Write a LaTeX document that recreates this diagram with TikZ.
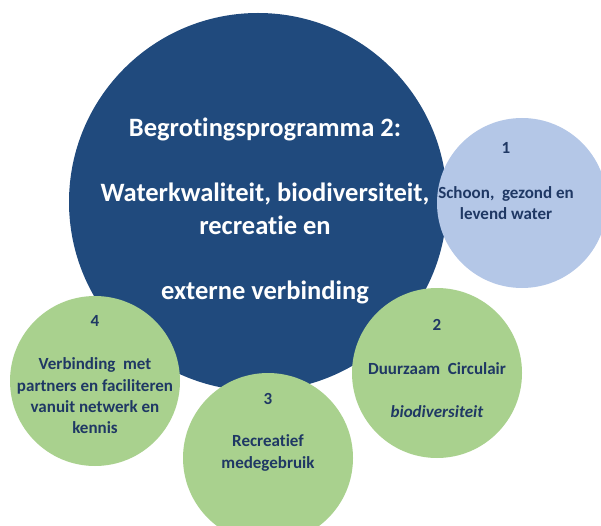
\documentclass[tikz,border=0pt]{standalone}
\usepackage{fontspec}
\setmainfont{Carlito}[Ligatures=NoCommon]
\definecolor{progblauw}{RGB}{32,74,125}
\definecolor{lichtblauw}{RGB}{180,199,231}
\definecolor{groen}{RGB}{169,209,142}
\definecolor{donkerblauw}{RGB}{31,56,100}
\begin{document}
\begin{tikzpicture}[x=1pt,y=-1pt,
    bol/.style={circle,inner sep=0pt,minimum size=170pt},
    nummer/.style={text=donkerblauw,font=\fontsize{17}{21}\selectfont\bfseries},
    tekst/.style={text=donkerblauw,align=center,font=\fontsize{17}{21.3}\selectfont\bfseries}]
\useasboundingbox (0,0) rectangle (601,526);
\clip (0,0) rectangle (601,526);

\node[circle,fill=progblauw,inner sep=0pt,minimum size=378pt] (programma) at (258,202) {};
\node[text=white,align=center,font=\fontsize{26.5}{32.5}\selectfont\bfseries] (titel) at (265,211)
    {Begrotingsprogramma 2:\\[32.5pt]Waterkwaliteit, biodiversiteit,\\recreatie en\\[32.5pt]externe verbinding};

\foreach \nr/\x/\y/\kleur in {1/522/203/lichtblauw, 2/437/373/groen, 3/268/458/groen, 4/95/381/groen}{
    \node[bol,fill=\kleur] (bol\nr) at (\x,\y) {};
}

\foreach \nr/\x/\y in {1/506/148, 2/437/325, 3/268/399, 4/95/321}{
    \node[nummer] (nr\nr) at (\x,\y) {\nr};
}

\node[tekst] (doel1) at (506,203) {Schoon,\ \ gezond en\\levend water};
\node[tekst] (doel2) at (437,390) {Duurzaam\ \ Circulair\\[21.3pt]\textit{biodiversiteit}};
\node[tekst] (doel3) at (268,453) {Recreatief\\medegebruik};
\node[tekst] (doel4) at (95,396) {Verbinding\ \ met\\partners en faciliteren\\vanuit netwerk en\\kennis};

\end{tikzpicture}
\end{document}
